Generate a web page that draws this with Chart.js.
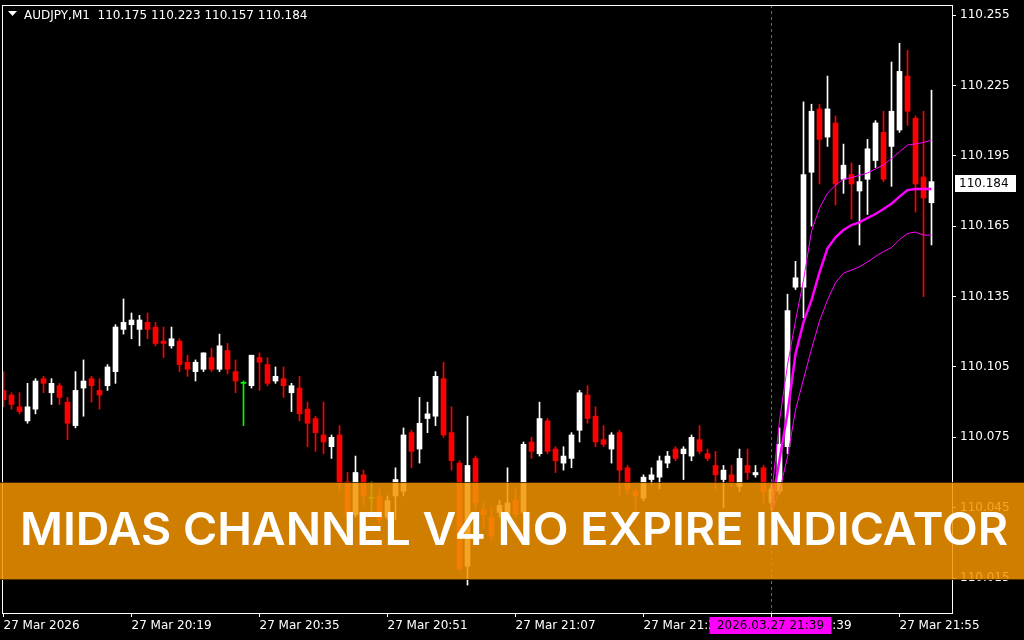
<!DOCTYPE html>
<html>
<head>
<meta charset="utf-8">
<style>
  html, body { margin: 0; padding: 0; background: #000; }
  canvas { display: block; }
</style>
</head>
<body>
<canvas id="chart" width="1024" height="640"></canvas>
<script src="https://cdn.jsdelivr.net/npm/chart.js@4.4.1/dist/chart.umd.min.js"></script>
<script>
// AUDJPY M1 candles, one per minute, bar 0 = 20:03
const opens = [
  110.095, 110.093, 110.088, 110.082, 110.087, 110.100, 110.094, 110.097, 110.090, 110.080,
  110.096, 110.100, 110.095, 110.097, 110.103, 110.121, 110.123, 110.121, 110.124, 110.122,
  110.116, 110.114, 110.116, 110.107, 110.103, 110.104, 110.109, 110.104, 110.112, 110.103,
  110.098, 110.097, 110.109, 110.106, 110.099, 110.100, 110.094, 110.096, 110.087, 110.083,
  110.076, 110.071, 110.076, 110.056, 110.042, 110.059, 110.049, 110.050, 110.041, 110.050,
  110.052, 110.077, 110.070, 110.083, 110.084, 110.100, 110.077, 110.064, 110.020, 110.066,
  110.044, 110.041, 110.043, 110.042, 110.048, 110.043, 110.073, 110.068, 110.082, 110.070,
  110.064, 110.066, 110.078, 110.093, 110.084, 110.074, 110.070, 110.077, 110.062, 110.052,
  110.049, 110.057, 110.058, 110.064, 110.070, 110.068, 110.067, 110.074, 110.068, 110.063,
  110.057, 110.059, 110.054, 110.063, 110.059, 110.062, 110.047, 110.052, 110.071, 110.139,
  110.139, 110.188, 110.215, 110.203, 110.209, 110.185, 110.187, 110.180, 110.185, 110.193,
  110.205, 110.199, 110.206, 110.229, 110.211, 110.186, 110.175
];
const highs = [
  110.103, 110.094, 110.094, 110.098, 110.100, 110.101, 110.100, 110.098, 110.092, 110.103,
  110.108, 110.101, 110.100, 110.106, 110.123, 110.134, 110.128, 110.127, 110.128, 110.124,
  110.122, 110.122, 110.117, 110.110, 110.108, 110.111, 110.113, 110.119, 110.115, 110.108,
  110.099, 110.110, 110.111, 110.109, 110.105, 110.105, 110.098, 110.101, 110.090, 110.084,
  110.090, 110.076, 110.080, 110.060, 110.067, 110.061, 110.056, 110.053, 110.050, 110.062,
  110.079, 110.078, 110.092, 110.090, 110.103, 110.107, 110.088, 110.065, 110.084, 110.067,
  110.047, 110.045, 110.048, 110.062, 110.053, 110.073, 110.075, 110.090, 110.083, 110.071,
  110.071, 110.077, 110.095, 110.097, 110.088, 110.080, 110.077, 110.078, 110.063, 110.053,
  110.059, 110.062, 110.067, 110.069, 110.071, 110.071, 110.076, 110.080, 110.070, 110.069,
  110.063, 110.063, 110.070, 110.070, 110.063, 110.063, 110.055, 110.079, 110.136, 110.150,
  110.218, 110.217, 110.217, 110.229, 110.212, 110.200, 110.192, 110.191, 110.202, 110.210,
  110.214, 110.235, 110.243, 110.240, 110.212, 110.214, 110.223
];
const lows = [
  110.088, 110.087, 110.085, 110.081, 110.085, 110.094, 110.089, 110.089, 110.074, 110.079,
  110.084, 110.090, 110.087, 110.095, 110.098, 110.119, 110.117, 110.114, 110.117, 110.114,
  110.109, 110.113, 110.103, 110.101, 110.099, 110.103, 110.103, 110.103, 110.102, 110.094,
  110.080, 110.096, 110.095, 110.097, 110.098, 110.092, 110.086, 110.082, 110.071, 110.069,
  110.068, 110.066, 110.052, 110.040, 110.041, 110.046, 110.042, 110.038, 110.040, 110.040,
  110.050, 110.062, 110.064, 110.077, 110.080, 110.075, 110.061, 110.018, 110.012, 110.044,
  110.036, 110.031, 110.041, 110.041, 110.041, 110.042, 110.066, 110.067, 110.068, 110.060,
  110.061, 110.062, 110.073, 110.081, 110.071, 110.071, 110.064, 110.050, 110.051, 110.040,
  110.048, 110.055, 110.053, 110.062, 110.065, 110.057, 110.065, 110.068, 110.065, 110.053,
  110.045, 110.054, 110.052, 110.057, 110.058, 110.047, 110.044, 110.051, 110.068, 110.138,
  110.126, 110.165, 110.183, 110.199, 110.174, 110.179, 110.168, 110.157, 110.170, 110.190,
  110.184, 110.182, 110.205, 110.208, 110.171, 110.135, 110.157
];
const closes = [
  110.091, 110.089, 110.086, 110.088, 110.099, 110.098, 110.098, 110.092, 110.081, 110.095,
  110.099, 110.097, 110.093, 110.105, 110.122, 110.124, 110.125, 110.125, 110.121, 110.115,
  110.115, 110.117, 110.106, 110.104, 110.107, 110.111, 110.104, 110.114, 110.104, 110.099,
  110.098, 110.110, 110.107, 110.098, 110.101, 110.097, 110.097, 110.085, 110.081, 110.077,
  110.073, 110.075, 110.055, 110.042, 110.060, 110.050, 110.049, 110.040, 110.048, 110.057,
  110.076, 110.069, 110.081, 110.085, 110.101, 110.076, 110.065, 110.019, 110.063, 110.047,
  110.042, 110.033, 110.046, 110.047, 110.042, 110.072, 110.069, 110.083, 110.069, 110.065,
  110.067, 110.076, 110.094, 110.083, 110.073, 110.072, 110.076, 110.061, 110.053, 110.050,
  110.058, 110.059, 110.065, 110.067, 110.066, 110.070, 110.075, 110.069, 110.066, 110.059,
  110.061, 110.056, 110.066, 110.060, 110.060, 110.052, 110.053, 110.072, 110.129, 110.143,
  110.187, 110.214, 110.202, 110.215, 110.183, 110.191, 110.183, 110.184, 110.198, 110.209,
  110.185, 110.214, 110.231, 110.214, 110.183, 110.177, 110.184
];

// Midas channel, anchored at bar 96 (21:39)
const midasStart = 96;
const midasUpper = [
  110.0500, 110.0820, 110.1058, 110.1247, 110.1420, 110.1629, 110.1727, 110.1791, 110.1825, 110.1850,
  110.1857, 110.1867, 110.1877, 110.1894, 110.1911, 110.1938, 110.1967, 110.1996, 110.2001, 110.2007,
  110.2017
];
const midasMiddle = [
  110.0450, 110.0653, 110.0853, 110.1105, 110.1241, 110.1335, 110.1453, 110.1556, 110.1603, 110.1634,
  110.1655, 110.1666, 110.1685, 110.1702, 110.1723, 110.1746, 110.1776, 110.1804, 110.1809, 110.1809,
  110.1809
];
const midasLower = [
  110.0430, 110.0521, 110.0666, 110.0866, 110.0998, 110.1126, 110.1246, 110.1335, 110.1409, 110.1450,
  110.1463, 110.1477, 110.1497, 110.1521, 110.1542, 110.1559, 110.1593, 110.1619, 110.1625, 110.1612,
  110.1612
];

const timeTickBars = [0, 16, 32, 48, 64, 80, 96, 112];
const timeTickLabels = [
  "27 Mar 2026", "27 Mar 20:19", "27 Mar 20:35", "27 Mar 20:51",
  "27 Mar 21:07", "27 Mar 21:23", "27 Mar 21:39", "27 Mar 21:55"
];
const priceTicks = [110.015, 110.045, 110.075, 110.105, 110.135, 110.165, 110.195, 110.225, 110.255];

const symbolTitle = "AUDJPY,M1";
const crossTimeLabel = "2026.03.27 21:39";
const bannerText = "MIDAS CHANNEL V4 NO EXPIRE INDICATOR";

const FONT = "DejaVu Sans";
Chart.defaults.font.family = FONT;
Chart.defaults.font.size = 12;
Chart.defaults.color = "#ffffff";

const barIndex = opens.map((_, i) => i);

function candleColor(i) {
  if (closes[i] > opens[i]) return "#ffffff";
  if (closes[i] < opens[i]) return "#ff0000";
  return "#00ff00";
}
const candleColors = barIndex.map(candleColor);

function midasPoints(values) {
  return values.map((v, i) => ({ x: midasStart + i, y: v }));
}

// chart.js reserves room for the end labels, MT4 does not
function noEdgePadding(scale) {
  scale.paddingTop = 0;
  scale.paddingBottom = 0;
  scale.paddingLeft = 0;
  scale.paddingRight = 0;
}

const overlay = {
  id: "overlay",
  beforeDraw(chart) {
    const ctx = chart.ctx;
    ctx.save();
    ctx.fillStyle = "#000000";
    ctx.fillRect(0, 0, chart.width, chart.height);
    ctx.restore();
  },
  beforeDatasetsDraw(chart) {
    const ctx = chart.ctx;
    const area = chart.chartArea;
    const x = Math.round(chart.scales.x.getPixelForValue(midasStart)) - 0.5;
    ctx.save();
    ctx.strokeStyle = "#ff00ff";
    ctx.lineWidth = 1;
    ctx.setLineDash([3, 3]);
    ctx.beginPath();
    ctx.moveTo(x, area.top);
    ctx.lineTo(x, area.bottom);
    ctx.stroke();
    ctx.restore();
  },
  afterDraw(chart) {
    const ctx = chart.ctx;
    const area = chart.chartArea;
    const last = opens.length - 1;
    ctx.save();

    // frame
    ctx.strokeStyle = "#ffffff";
    ctx.lineWidth = 1;
    ctx.strokeRect(area.left + 0.5, area.top + 0.5, area.right - area.left, area.bottom - area.top);

    // header
    ctx.fillStyle = "#ffffff";
    ctx.beginPath();
    ctx.moveTo(8, 11);
    ctx.lineTo(17, 11);
    ctx.lineTo(12.5, 16);
    ctx.closePath();
    ctx.fill();
    ctx.font = "12px " + FONT;
    ctx.textBaseline = "alphabetic";
    ctx.textAlign = "left";
    const head = symbolTitle + "  " + [opens[last], highs[last], lows[last], closes[last]]
      .map((v) => v.toFixed(3)).join(" ");
    ctx.fillText(head, 24, 19);

    // current price label
    const py = Math.round(chart.scales.y.getPixelForValue(closes[last])) + 1;
    ctx.fillStyle = "#ffffff";
    ctx.fillRect(955, py - 8, 61, 17);
    ctx.fillStyle = "#000000";
    ctx.textBaseline = "middle";
    ctx.fillText(closes[last].toFixed(3), 959, py + 1);

    // crosshair time label
    const cx = chart.scales.x.getPixelForValue(midasStart);
    ctx.fillStyle = "#ff00ff";
    ctx.fillRect(cx - 62, 617, 122, 17);
    ctx.fillStyle = "#000000";
    ctx.textAlign = "center";
    ctx.fillText(crossTimeLabel, cx - 1, 626);

    // banner
    ctx.fillStyle = "rgba(245, 148, 0, 0.85)";
    ctx.fillRect(0, 483, chart.width, 97);
    ctx.fillStyle = "rgba(70, 42, 0, 0.9)";
    ctx.fillRect(0, 482, chart.width, 1);
    ctx.fillRect(0, 579, chart.width, 1);
    ctx.font = "600 45px Inter";
    ctx.textAlign = "left";
    ctx.textBaseline = "alphabetic";
    const w = ctx.measureText(bannerText).width;
    ctx.translate(20, 545);
    ctx.scale(988 / w, 1);
    ctx.fillStyle = "#ffffff";
    ctx.fillText(bannerText, 0, 0);
    ctx.restore();
  }
};

new Chart(document.getElementById("chart"), {
  type: "bar",
  data: {
    datasets: [
      {
        type: "line",
        label: "Midas upper",
        data: midasPoints(midasUpper),
        borderColor: "#ff00ff",
        borderWidth: 1,
        pointRadius: 0,
        tension: 0,
        order: 0,
      },
      {
        type: "line",
        label: "Midas",
        data: midasPoints(midasMiddle),
        borderColor: "#ff00ff",
        borderWidth: 2.5,
        pointRadius: 0,
        tension: 0,
        order: 0,
      },
      {
        type: "line",
        label: "Midas lower",
        data: midasPoints(midasLower),
        borderColor: "#ff00ff",
        borderWidth: 1,
        pointRadius: 0,
        tension: 0,
        order: 0,
      },
      {
        label: "bodies",
        data: barIndex.map((i) => ({ x: i, y: [opens[i], closes[i]] })),
        backgroundColor: candleColors,
        barThickness: 5,
        minBarLength: 1,
        grouped: false,
        order: 1,
      },
      {
        label: "wicks",
        data: barIndex.map((i) => ({ x: i, y: [lows[i], highs[i]] })),
        backgroundColor: candleColors,
        barThickness: 1,
        grouped: false,
        order: 2,
      },
    ],
  },
  options: {
    responsive: false,
    animation: false,
    devicePixelRatio: 1,
    layout: { padding: { left: 2, top: 5, right: 0, bottom: 0 } },
    plugins: {
      legend: { display: false },
      tooltip: { enabled: false },
    },
    scales: {
      x: {
        type: "linear",
        offset: false,
        min: -0.1875,
        max: 118.5625,
        afterBuildTicks: (scale) => {
          scale.ticks = timeTickBars.map((v) => ({ value: v }));
        },
        afterFit: (scale) => {
          scale.height = 27;
          noEdgePadding(scale);
        },
        ticks: {
          align: "start",
          autoSkip: false,
          maxRotation: 0,
          padding: 2,
          color: "#ffffff",
          callback: (v) => timeTickLabels[timeTickBars.indexOf(v)],
        },
        grid: { drawOnChartArea: false, offset: false, tickLength: 4, color: "#ffffff" },
        border: { display: false },
      },
      y: {
        position: "right",
        min: 110.0001,
        max: 110.2593,
        afterBuildTicks: (scale) => {
          scale.ticks = priceTicks.map((v) => ({ value: v }));
        },
        afterFit: (scale) => {
          scale.width = 72;
          noEdgePadding(scale);
        },
        ticks: {
          padding: 4,
          color: "#ffffff",
          callback: (v) => v.toFixed(3),
        },
        grid: { drawOnChartArea: false, tickLength: 4, color: "#ffffff" },
        border: { display: false },
      },
    },
  },
  plugins: [overlay],
});
</script>
</body>
</html>
